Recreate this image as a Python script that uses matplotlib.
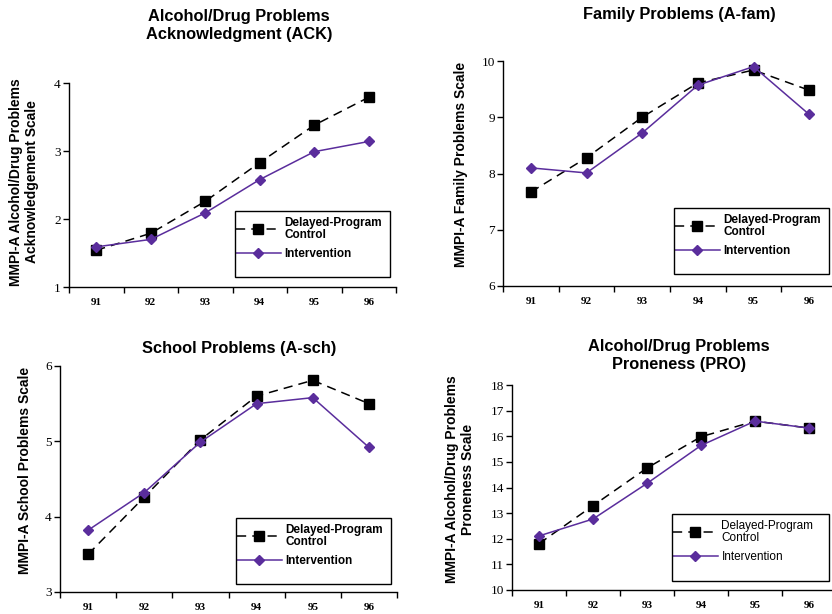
import matplotlib.pyplot as plt
from matplotlib.patches import Rectangle

years = ["91", "92", "93", "94", "95", "96"]

ack_control = [1.54, 1.79, 2.26, 2.83, 3.38, 3.79]
ack_interv = [1.59, 1.70, 2.09, 2.58, 2.99, 3.14]

fam_control = [7.67, 8.28, 9.00, 9.61, 9.84, 9.48]
fam_interv = [8.10, 8.01, 8.72, 9.57, 9.90, 9.05]

sch_control = [3.50, 4.26, 5.02, 5.60, 5.81, 5.50]
sch_interv = [3.82, 4.32, 4.99, 5.50, 5.58, 4.92]

pro_control = [11.81, 13.29, 14.76, 15.98, 16.59, 16.32]
pro_interv = [12.11, 12.77, 14.16, 15.64, 16.59, 16.32]

W, H = 832, 614
purple = "#5a2d9c"

fig = plt.figure(figsize=(W / 100, H / 100), dpi=100)


def px_axes(left, top, right, bottom):
    return fig.add_axes([left / W, 1 - bottom / H, (right - left) / W, (bottom - top) / H])


def draw_panel(ax, control, interv, ylim, yticks, box, legend_bold=True):
    x = list(range(len(years)))
    ax.plot(x, control, color="black", linestyle=(0, (6, 4)), linewidth=1.1,
            marker="s", markersize=7, label="Delayed-Program\nControl")
    ax.plot(x, interv, color=purple, linewidth=1.1,
            marker="D", markersize=5, label="Intervention")
    ax.set_xlim(-0.5, len(years) - 0.5)
    ax.set_ylim(*ylim)
    ax.set_yticks(yticks)
    ax.set_yticklabels([str(t) for t in yticks], fontfamily="Liberation Serif", fontsize=9.5)
    ax.set_xticks(x)
    ax.set_xticklabels(years, fontfamily="Liberation Serif", fontweight="bold", fontsize=8)
    ax.set_xticks([i - 0.5 for i in range(len(years) + 1)], minor=True)
    ax.tick_params(axis="x", which="major", length=0, pad=8)
    ax.tick_params(axis="x", which="minor", length=4, direction="out", width=1)
    ax.tick_params(axis="y", length=4, direction="out", width=1, pad=2)
    ax.spines["top"].set_visible(False)
    ax.spines["right"].set_visible(False)
    for s in ["left", "bottom"]:
        ax.spines[s].set_linewidth(1)

    # legend frame drawn separately (it has empty space at the bottom)
    l, t, r, b = box
    fig.patches.append(Rectangle((l / W, 1 - b / H), (r - l) / W, (b - t) / H,
                                 transform=fig.transFigure, fill=False,
                                 edgecolor="black", linewidth=1))
    leg = ax.legend(loc="upper left", bbox_to_anchor=((l + 1) / W, 1 - (t + 6) / H),
                    bbox_transform=fig.transFigure, frameon=False, handlelength=3.8,
                    prop={"family": "Liberation Sans",
                          "weight": "bold" if legend_bold else "normal", "size": 8.5},
                    borderpad=0, borderaxespad=0, labelspacing=0.6, handletextpad=0.3)
    leg.get_texts()[0].set_linespacing(1.0)


ax1 = px_axes(69, 83, 396, 287)
draw_panel(ax1, ack_control, ack_interv, (1, 4), [1, 2, 3, 4], (235, 211, 390, 277))

ax2 = px_axes(503, 61, 837, 286)
draw_panel(ax2, fam_control, fam_interv, (6, 10), [6, 7, 8, 9, 10], (674, 208, 829, 274))

ax3 = px_axes(60, 366, 397, 592)
draw_panel(ax3, sch_control, sch_interv, (3, 6), [3, 4, 5, 6], (236, 518, 391, 584))

ax4 = px_axes(512, 385, 836, 590)
draw_panel(ax4, pro_control, pro_interv, (10, 18), list(range(10, 19)), (672, 514, 829, 581),
           legend_bold=False)

title_kw = dict(ha="center", va="center", fontfamily="Liberation Sans", fontweight="bold", fontsize=11.8)
fig.text(239 / W, 1 - 25 / H, "Alcohol/Drug Problems\nAcknowledgment (ACK)", linespacing=1.25, **title_kw)
fig.text(679 / W, 1 - 14 / H, "Family Problems (A-fam)", **title_kw)
fig.text(239 / W, 1 - 349 / H, "School Problems (A-sch)", **title_kw)
fig.text(679 / W, 1 - 356 / H, "Alcohol/Drug Problems\nProneness (PRO)", linespacing=1.25, **title_kw)

ylab_kw = dict(ha="center", va="center", rotation=90, fontfamily="Liberation Sans",
               fontweight="bold", fontsize=10, linespacing=1.2)
fig.text(24 / W, 1 - 182 / H, "MMPI-A Alcohol/Drug Problems\nAcknowledgement Scale", **ylab_kw)
fig.text(461 / W, 1 - 164 / H, "MMPI-A Family Problems Scale", **ylab_kw)
fig.text(25 / W, 1 - 470 / H, "MMPI-A School Problems Scale", **ylab_kw)
fig.text(460 / W, 1 - 479 / H, "MMPI-A Alcohol/Drug Problems\nProneness Scale", **ylab_kw)

fig.savefig("out.png", dpi=100)
